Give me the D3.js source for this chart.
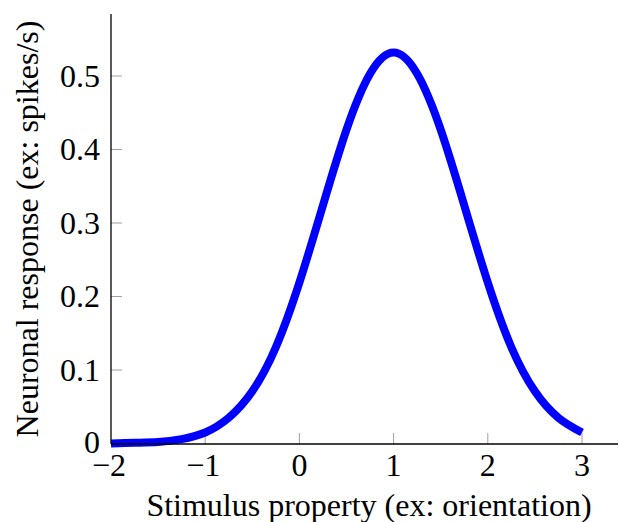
<!DOCTYPE html>
<html>
<head>
<meta charset="utf-8">
<script src="https://cdn.jsdelivr.net/npm/d3@7"></script>
<style>
  html, body { margin: 0; padding: 0; background: #fff; }
  svg { display: block; }
  text { font-family: "Liberation Serif", "DejaVu Serif", serif; fill: #000; }
</style>
</head>
<body>
<svg id="chart" width="619" height="522"></svg>
<script>
// Values
const xValues = [-2, -1.75, -1.5, -1.25, -1, -0.75, -0.5, -0.25, 0, 0.25, 0.5, 0.75, 1, 1.25, 1.5, 1.75, 2, 2.25, 2.5, 2.75, 3];
const responseValues = [0.000, 0.001, 0.002, 0.006, 0.015, 0.035, 0.071, 0.131, 0.219, 0.324, 0.427, 0.503, 0.532, 0.503, 0.427, 0.324, 0.219, 0.131, 0.071, 0.035, 0.015];
const xTicks = [-2, -1, 0, 1, 2, 3];
const yTicks = [0, 0.1, 0.2, 0.3, 0.4, 0.5];
const xTitle = "Stimulus property (ex: orientation)";
const yTitle = "Neuronal response (ex: spikes/s)";

(function () {
const svg = d3.select("#chart");
const mLeft = 111, mRight = 618, mTop = 14, mBottom = 444;

const x = d3.scaleLinear().domain([-2, 3]).range([111, 582]);
const y = d3.scaleLinear().domain([0, 0.5]).range([443.5, 76]);

const fontSize = 32;

// ticks (inward, grey)
const g = svg.append("g");
g.selectAll("line.xt").data(xTicks.slice(1)).join("line")
  .attr("x1", d => x(d)).attr("x2", d => x(d))
  .attr("y1", mBottom).attr("y2", mBottom - 11)
  .attr("stroke", "#a0a0a0").attr("stroke-width", 1);
g.selectAll("line.yt").data(yTicks.slice(1)).join("line")
  .attr("x1", mLeft).attr("x2", mLeft + 11)
  .attr("y1", d => y(d)).attr("y2", d => y(d))
  .attr("stroke", "#a0a0a0").attr("stroke-width", 1);

// curve
const data = xValues.map((v, i) => ({x: v, y: responseValues[i]}));
const line = d3.line().x(d => x(d.x)).y(d => y(d.y)).curve(d3.curveNatural);
svg.append("path").datum(data)
  .attr("d", line)
  .attr("fill", "none")
  .attr("stroke", "#0000ff")
  .attr("stroke-width", 8)
  .attr("stroke-linejoin", "round")
  .attr("stroke-linecap", "butt");

// axis lines
svg.append("line").attr("x1", mLeft).attr("x2", mLeft).attr("y1", mTop).attr("y2", mBottom)
  .attr("stroke", "#000").attr("stroke-width", 1.3);
svg.append("line").attr("x1", mLeft).attr("x2", mRight).attr("y1", mBottom).attr("y2", mBottom)
  .attr("stroke", "#000").attr("stroke-width", 1.3);

// tick labels
const fmtX = d => d < 0 ? "\u2212" + Math.abs(d) : String(d);
svg.selectAll("text.xl").data(xTicks).join("text")
  .attr("class", "xl")
  .attr("x", d => x(d) - (d < 0 ? 2 : 0))
  .attr("y", 476)
  .attr("text-anchor", "middle")
  .attr("font-size", fontSize)
  .text(fmtX);
svg.selectAll("text.yl").data(yTicks).join("text")
  .attr("class", "yl")
  .attr("x", 100)
  .attr("y", d => y(d) + (d === 0 ? 9 : 10.5))
  .attr("text-anchor", "end")
  .attr("font-size", fontSize)
  .text(d => d === 0 ? "0" : d3.format(".1f")(d));

// axis titles
svg.append("text")
  .attr("x", 369).attr("y", 516)
  .attr("text-anchor", "middle")
  .attr("font-size", fontSize)
  .text(xTitle);
svg.append("text")
  .attr("transform", "translate(38,229) rotate(-90)")
  .attr("text-anchor", "middle")
  .attr("font-size", fontSize)
  .text(yTitle);
})();
</script>
</body>
</html>
